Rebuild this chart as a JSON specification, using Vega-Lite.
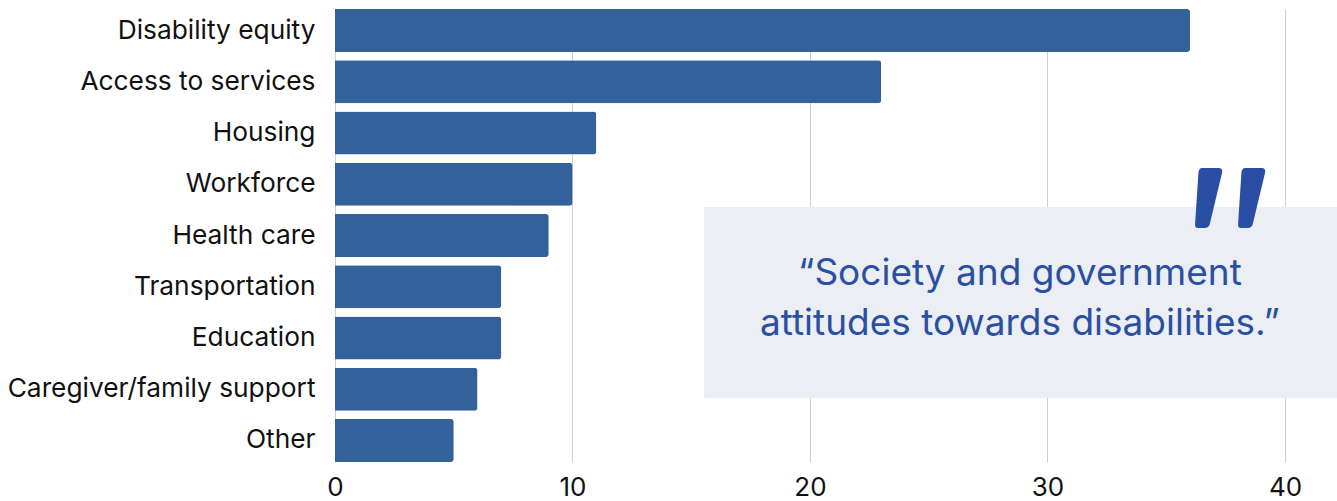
{
  "$schema": "https://vega.github.io/schema/vega-lite/v6.json",
  "width": 1002,
  "height": 453,
  "autosize": {"type": "none"},
  "padding": {"left": 335, "top": 9, "right": 0, "bottom": 39},
  "background": "white",
  "config": {
    "view": {"stroke": null},
    "font": "Inter",
    "axis": {"labelFont": "Inter"}
  },
  "layer": [
    {
      "data": {
        "values": [
          {"category": "Disability equity", "value": 36},
          {"category": "Access to services", "value": 23},
          {"category": "Housing", "value": 11},
          {"category": "Workforce", "value": 10},
          {"category": "Health care", "value": 9},
          {"category": "Transportation", "value": 7},
          {"category": "Education", "value": 7},
          {"category": "Caregiver/family support", "value": 6},
          {"category": "Other", "value": 5}
        ]
      },
      "mark": {"type": "bar", "color": "#33619a", "cornerRadiusEnd": 3},
      "encoding": {
        "y": {
          "field": "category",
          "type": "nominal",
          "sort": null,
          "scale": {"paddingInner": 0.16, "paddingOuter": 0},
          "axis": {
            "title": null,
            "ticks": false,
            "domain": false,
            "labelFontSize": 26.3,
            "labelPadding": 20,
            "labelColor": "#111111",
            "labelLimit": 400
          }
        },
        "x": {
          "field": "value",
          "type": "quantitative",
          "scale": {"domain": [0, 42.19], "nice": false},
          "axis": {
            "title": null,
            "values": [0, 10, 20, 30, 40],
            "grid": true,
            "gridColor": "#cfcfcf",
            "gridWidth": 1,
            "ticks": false,
            "domain": false,
            "labelFontSize": 26,
            "labelPadding": 12,
            "labelColor": "#111111",
            "labelFlush": false
          }
        }
      }
    },
    {
      "data": {"values": [{"x1": 15.54, "x2": 42.19, "y1": 0.437, "y2": 0.859}]},
      "mark": {"type": "rect", "color": "#ebeef2"},
      "encoding": {
        "x": {
          "field": "x1",
          "type": "quantitative",
          "axis": {
            "title": null,
            "values": [0, 10, 20, 30, 40],
            "grid": true,
            "gridColor": "#cfcfcf",
            "gridWidth": 1,
            "ticks": false,
            "domain": false,
            "labelFontSize": 26,
            "labelPadding": 12,
            "labelColor": "#111111",
            "labelFlush": false
          }
        },
        "x2": {"field": "x2"},
        "y": {"field": "y1", "type": "quantitative", "axis": null, "scale": {"domain": [0, 1], "reverse": true}},
        "y2": {"field": "y2"}
      }
    },
    {
      "data": {
        "values": [
          {"x": 28.84, "y": 0.609, "text": "“Society and government"},
          {"x": 28.84, "y": 0.720, "text": "attitudes towards disabilities.”"}
        ]
      },
      "mark": {"type": "text", "color": "#2a4fa3", "font": "Inter", "fontSize": 37, "align": "center", "baseline": "alphabetic"},
      "encoding": {
        "x": {
          "field": "x",
          "type": "quantitative",
          "axis": {
            "title": null,
            "values": [0, 10, 20, 30, 40],
            "grid": true,
            "gridColor": "#cfcfcf",
            "gridWidth": 1,
            "ticks": false,
            "domain": false,
            "labelFontSize": 26,
            "labelPadding": 12,
            "labelColor": "#111111",
            "labelFlush": false
          }
        },
        "y": {"field": "y", "type": "quantitative", "axis": null, "scale": {"domain": [0, 1], "reverse": true}},
        "text": {"field": "text"}
      }
    },
    {
      "data": {"values": [{"x": 36.76, "y": 0.417}, {"x": 38.57, "y": 0.417}]},
      "mark": {
        "type": "point",
        "filled": true,
        "opacity": 1,
        "color": "#2a4ea3",
        "size": 3600,
        "shape": "M -0.2 -1 L 0.35 -1 Q 0.5 -1 0.47 -0.85 L 0.05 0.9 Q 0 1 -0.1 1 L -0.33 1 Q -0.45 1 -0.43 0.85 L -0.32 -0.85 Q -0.3 -1 -0.2 -1 Z"
      },
      "encoding": {
        "x": {
          "field": "x",
          "type": "quantitative",
          "axis": {
            "title": null,
            "values": [0, 10, 20, 30, 40],
            "grid": true,
            "gridColor": "#cfcfcf",
            "gridWidth": 1,
            "ticks": false,
            "domain": false,
            "labelFontSize": 26,
            "labelPadding": 12,
            "labelColor": "#111111",
            "labelFlush": false
          }
        },
        "y": {"field": "y", "type": "quantitative", "axis": null, "scale": {"domain": [0, 1], "reverse": true}}
      }
    }
  ],
  "resolve": {"scale": {"y": "independent"}}
}
